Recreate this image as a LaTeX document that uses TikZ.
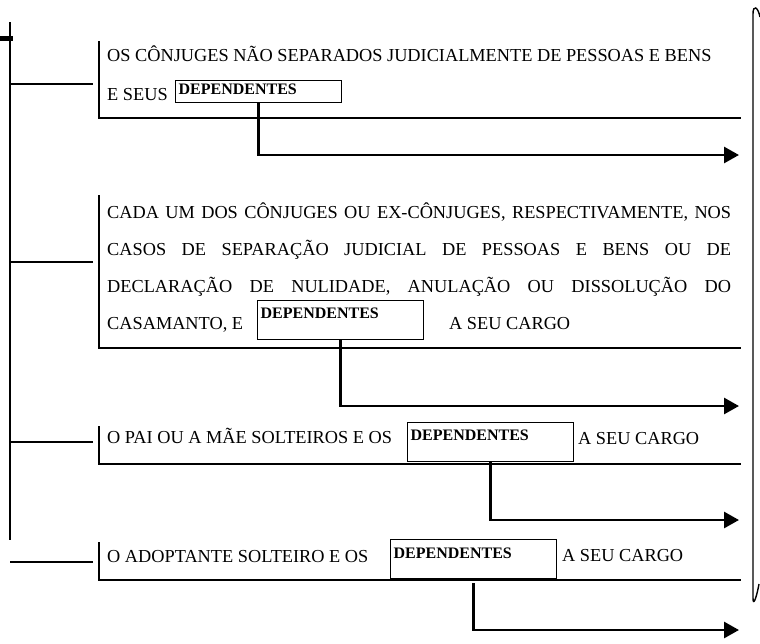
\documentclass[tikz,border=0pt]{standalone}
\usepackage{fontspec}
\setmainfont{Liberation Serif}
\usetikzlibrary{arrows.meta}

\begin{document}
\begin{tikzpicture}[x=1pt,y=-1pt]
\tikzstyle{texte}=[anchor=base west, inner sep=0pt, font=\fontsize{18.3}{20}\selectfont]
\tikzstyle{cadre}=[draw, line width=1.2pt, anchor=north west, inner xsep=3pt, inner ysep=0pt, text width=160pt, align=left, font=\fontsize{16}{18}\selectfont\bfseries]
\tikzstyle{trait}=[line width=1.8pt]
\tikzstyle{base}=[line width=2.6pt]
\tikzstyle{fleche}=[line width=2.8pt, -{Triangle[length=15pt,width=16pt]}]
\useasboundingbox (0,0) rectangle (760,643);
% tronc
\coordinate (haut) at (10,22);
\coordinate (bas) at (10,540);
\coordinate (b0) at (0,38);
\coordinate (b1) at (13,38);
\draw[trait] (haut) -- (bas);
\draw[line width=5pt] (b0) -- (b1);
% premier cas
\coordinate (r1) at (10,84);
\coordinate (s1) at (93,84);
\coordinate (h1) at (99,41);
\coordinate (c1) at (741,118);
\draw[trait] (r1) -- (s1);
\draw[trait] (h1) -- (h1 |- c1);
\draw[base] ([xshift=-1pt]h1 |- c1) -- (c1);
\node[texte] (t1a) at (107,61) {OS CÔNJUGES NÃO SEPARADOS JUDICIALMENTE DE PESSOAS E BENS};
\node[texte] (t1b) at (107,100) {E SEUS};
\node[cadre, text height=14pt, text depth=8pt] (dep1) at (175,80) {DEPENDENTES};
\coordinate (f1) at (739,155);
\draw[fleche] (dep1.south) |- (f1);
% second cas
\coordinate (r2) at (10,262);
\coordinate (s2) at (93,262);
\coordinate (h2) at (99,195);
\coordinate (c2) at (741,348);
\draw[trait] (r2) -- (s2);
\draw[trait] (h2) -- (h2 |- c2);
\draw[base] ([xshift=-1pt]h2 |- c2) -- (c2);
\node[texte] (t2a) at (107,218) {\makebox[624pt][s]{CADA UM DOS CÔNJUGES OU EX-CÔNJUGES, RESPECTIVAMENTE, NOS}};
\node[texte] (t2b) at (107,255) {\makebox[624pt][s]{CASOS DE SEPARAÇÃO JUDICIAL DE PESSOAS E BENS OU DE}};
\node[texte] (t2c) at (107,292) {\makebox[624pt][s]{DECLARAÇÃO DE NULIDADE, ANULAÇÃO OU DISSOLUÇÃO DO}};
\node[texte] (t2d) at (107,329) {CASAMANTO, E};
\node[cadre, text height=18pt, text depth=21pt] (dep2) at (257,300) {DEPENDENTES};
\node[texte] (t2e) at (449,329) {A SEU CARGO};
\coordinate (f2) at (739,406);
\draw[fleche] (dep2.south) |- (f2);
% troisieme cas
\coordinate (r3) at (10,442);
\coordinate (s3) at (93,442);
\coordinate (h3) at (99,426);
\coordinate (c3) at (741,464);
\draw[trait] (r3) -- (s3);
\draw[trait] (h3) -- (h3 |- c3);
\draw[base] ([xshift=-1pt]h3 |- c3) -- (c3);
\node[texte] (t3a) at (107,443) {O PAI OU A MÃE SOLTEIROS E OS};
\node[cadre, text height=18pt, text depth=21pt] (dep3) at (407,422) {DEPENDENTES};
\node[texte] (t3b) at (578,444) {A SEU CARGO};
\coordinate (f3) at (739,520);
\draw[fleche] (dep3.south) |- (f3);
% quatrieme cas
\coordinate (r4) at (10,562);
\coordinate (s4) at (93,562);
\coordinate (h4) at (99,542);
\coordinate (c4) at (741,580);
\draw[trait] (r4) -- (s4);
\draw[trait] (h4) -- (h4 |- c4);
\draw[base] ([xshift=-1pt]h4 |- c4) -- (c4);
\node[texte] (t4a) at (107,562) {O ADOPTANTE SOLTEIRO E OS};
\node[cadre, text height=19pt, text depth=20pt] (dep4) at (390,539) {DEPENDENTES};
\node[texte] (t4b) at (562,561) {A SEU CARGO};
\coordinate (f4) at (739,630);
\draw[fleche, shorten <=4pt] (dep4.south) |- (f4);
% accolade
\draw[line width=1.4pt] (760,17) .. controls (758,7) and (753,4) .. (753,14) -- (753,598) .. controls (753,606) and (756,600) .. (759,584);
\end{tikzpicture}
\end{document}
